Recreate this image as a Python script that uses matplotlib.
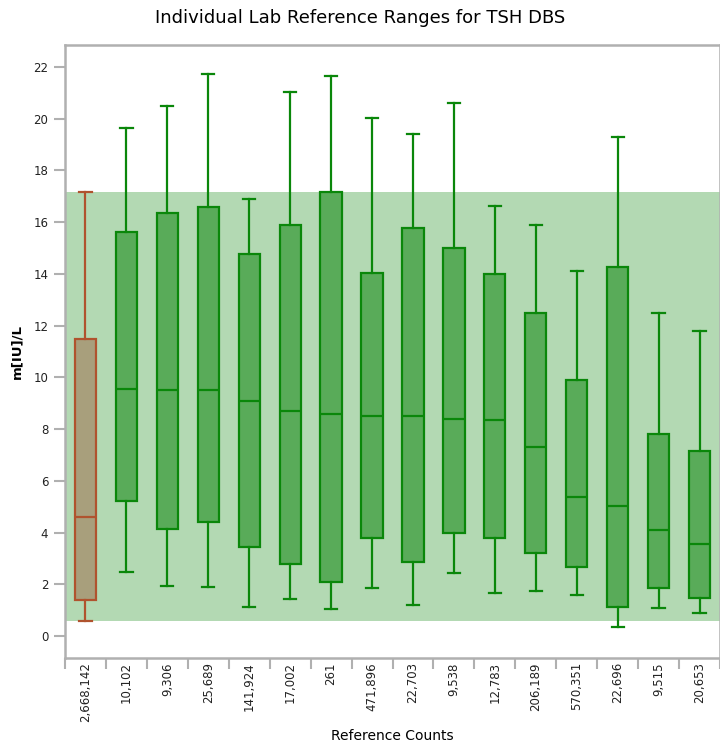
import matplotlib
matplotlib.use("Agg")
import matplotlib.pyplot as plt

# reference counts per lab (x categories)
counts = ["2,668,142", "10,102", "9,306", "25,689", "141,924", "17,002", "261",
          "471,896", "22,703", "9,538", "12,783", "206,189", "570,351", "22,696",
          "9,515", "20,653"]

# box statistics, m[IU]/L
whislo = [0.58, 2.48, 1.92, 1.88, 1.14, 1.45, 1.03, 1.86, 1.2, 2.44, 1.66, 1.74, 1.58, 0.33, 1.08, 0.9]
q1 = [1.41, 5.23, 4.12, 4.39, 3.45, 2.79, 2.08, 3.8, 2.86, 4.0, 3.78, 3.2, 2.66, 1.12, 1.85, 1.46]
med = [4.59, 9.55, 9.51, 9.51, 9.08, 8.7, 8.58, 8.5, 8.5, 8.39, 8.35, 7.32, 5.36, 5.02, 4.09, 3.56]
q3 = [11.5, 15.63, 16.35, 16.58, 14.78, 15.9, 17.16, 14.04, 15.77, 15.0, 14.0, 12.5, 9.9, 14.28, 7.82, 7.16]
whishi = [17.16, 19.65, 20.5, 21.72, 16.89, 21.03, 21.65, 20.02, 19.4, 20.6, 16.62, 15.89, 14.12, 19.29, 12.5, 11.78]

# overall reference range shown as band
band_lo, band_hi = 0.6, 17.16

stats = []
for i in range(len(counts)):
    stats.append(dict(whislo=whislo[i], q1=q1[i], med=med[i], q3=q3[i],
                      whishi=whishi[i], fliers=[]))

fig = plt.figure(figsize=(7.2, 7.48), dpi=100)
ax = fig.add_axes([0.0903, 0.1203, 0.9097, 0.8195])

ax.axhspan(band_lo, band_hi, color="#b3d9b3", zorder=0, lw=0)

pos = list(range(len(counts)))
bp = ax.bxp(stats, positions=pos, widths=0.52, capwidths=0.3,
            patch_artist=True, showfliers=False, zorder=2)

green_edge = "#0a870a"
for i, box in enumerate(bp["boxes"]):
    if i == 0:
        fc, ec = "#a89f7c", "#b0532e"
    else:
        fc, ec = "#59ab59", green_edge
    box.set_facecolor(fc)
    box.set_edgecolor(ec)
    box.set_linewidth(1.6)
    bp["medians"][i].set_color(ec)
    bp["medians"][i].set_linewidth(1.6)
    for ln in bp["whiskers"][2 * i:2 * i + 2] + bp["caps"][2 * i:2 * i + 2]:
        ln.set_color(ec)
        ln.set_linewidth(1.6)

ax.set_xlim(-0.5, len(counts) - 0.5)
ax.set_ylim(-0.85, 22.85)

# tick marks on the category boundaries, labels centered
ax.set_xticks([p - 0.5 for p in pos] + [len(counts) - 0.5])
ax.set_xticklabels([])
ax.set_xticks(pos, minor=True)
ax.set_xticklabels(counts, minor=True, rotation=90, fontsize=8.5, color="#222222")
ax.tick_params(axis="x", which="minor", length=0, pad=3)
ax.tick_params(axis="x", which="major", length=8, width=1.5, color="#b0b0b0")

ax.set_yticks(range(0, 23, 2))
ax.tick_params(axis="y", length=8, width=1.5, color="#b0b0b0", labelsize=8.5,
               labelcolor="#222222", pad=4)

for s in ax.spines.values():
    s.set_color("#b0b0b0")
    s.set_linewidth(1.8)

ax.set_ylabel("m[IU]/L", fontsize=9.5, fontweight="bold", labelpad=7)
ax.set_xlabel("Reference Counts", fontsize=10, labelpad=5)
fig.suptitle("Individual Lab Reference Ranges for TSH DBS", fontsize=13, y=0.988)

fig.savefig("out.png", dpi=100)
